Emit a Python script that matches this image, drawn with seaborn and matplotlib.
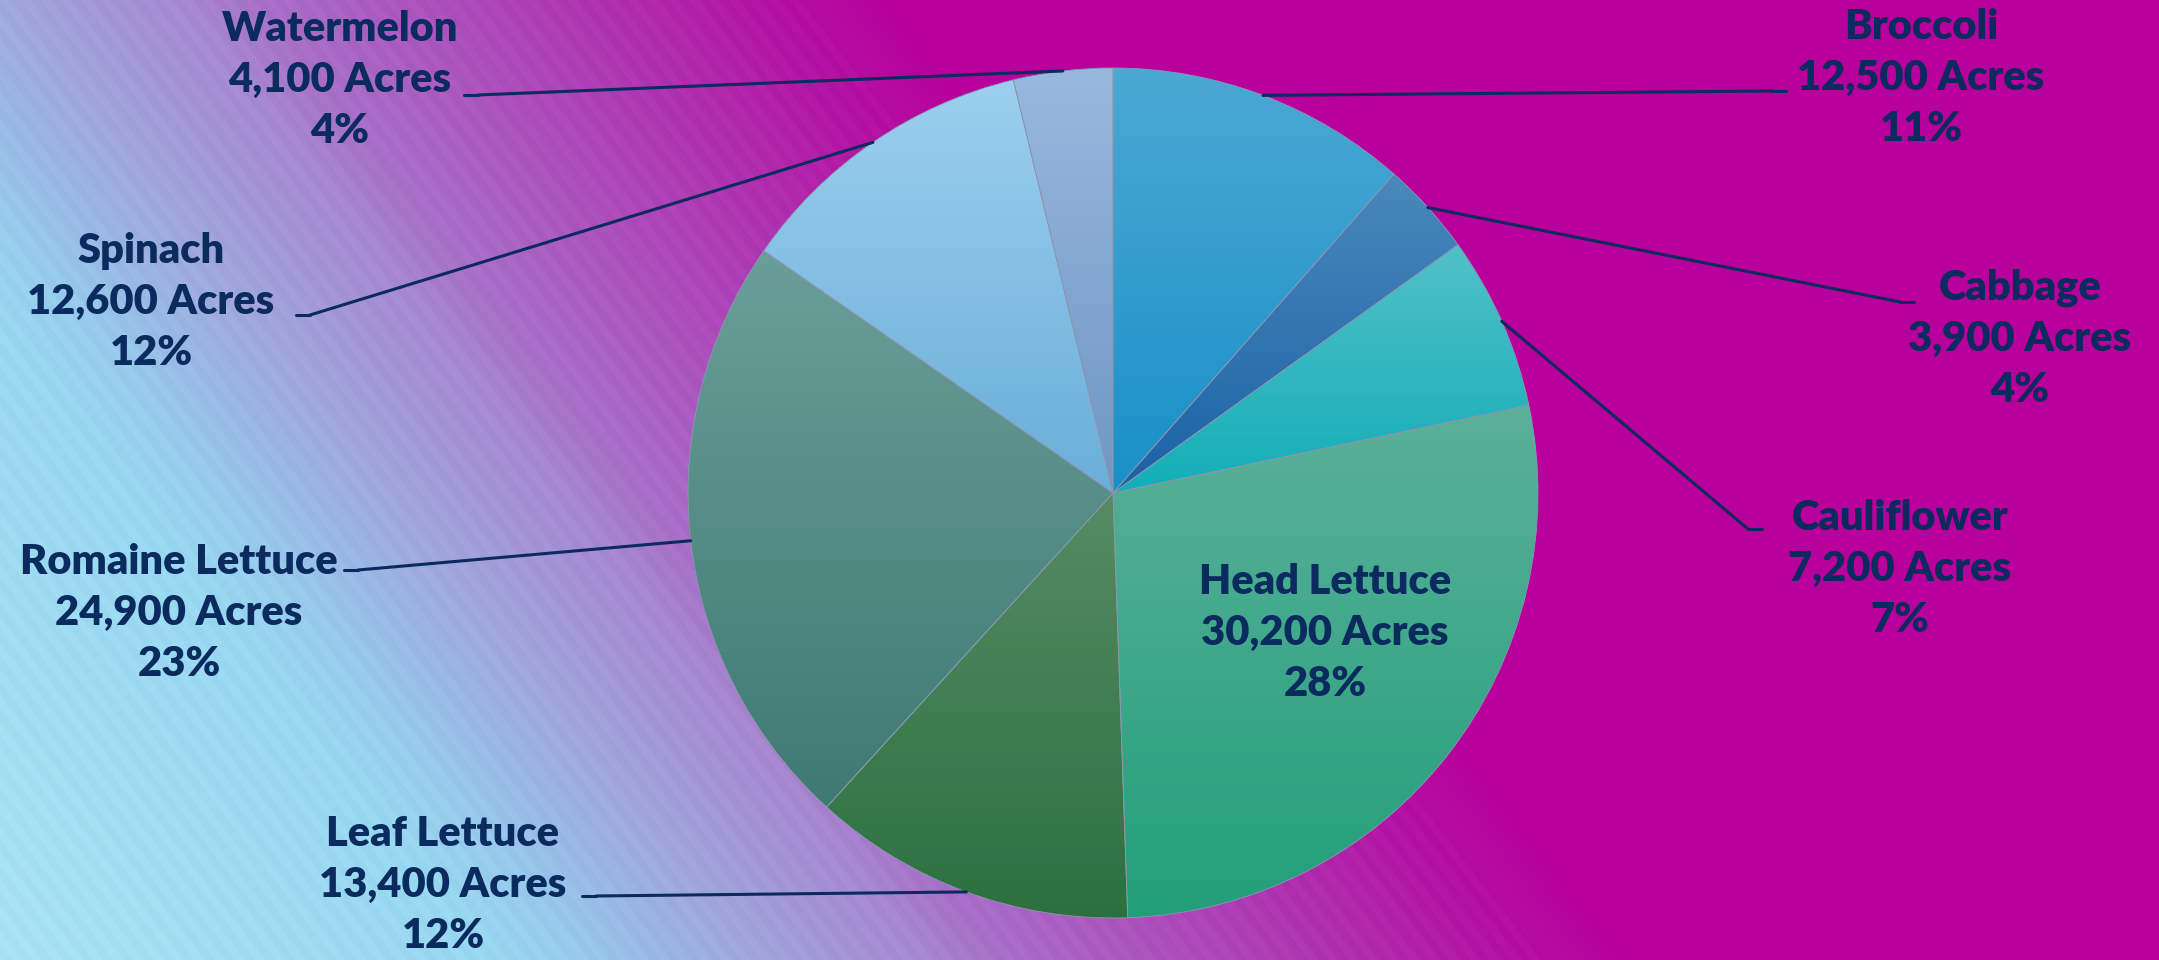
import numpy as np
import matplotlib
matplotlib.use('Agg')
import matplotlib.pyplot as plt
import seaborn as sns
from matplotlib.colors import LinearSegmentedColormap
from matplotlib.lines import Line2D

sns.set_theme(style='white')
plt.rcParams['font.family'] = ['Lato', 'DejaVu Sans']

# data, clockwise from 12 o'clock
crops = ['Broccoli', 'Cabbage', 'Cauliflower', 'Head Lettuce',
         'Leaf Lettuce', 'Romaine Lettuce', 'Spinach', 'Watermelon']
acres = [12500, 3900, 7200, 30200, 13400, 24900, 12600, 4100]

# wedge gradient colours (top -> bottom)
tops = ['#4ca8d4', '#4a88bc', '#52c0c8', '#5cb09a', '#568c62', '#6b9e98', '#9ccfef', '#98b8de']
bots = ['#1890c8', '#1a62a6', '#12aeb8', '#22a07a', '#2c7040', '#3f7a72', '#6aaed8', '#7096c4']

navy = '#0b2a5e'
W, H = 2159, 960
cx, cy, R = 1113, 493, 425

# label centres (middle line) and leader attach points, in pixels
label_pos = [(1921, 78), (2020, 339), (1900, 569), (1325, 633),
             (443, 885), (179, 613), (151, 302), (340, 80)]
attach = [(1786, 91), (1914, 302), (1762, 529), None,
          (582, 896), (344, 570), (296, 315), (464, 95)]
tick_dir = [-1, -1, -1, 0, 1, 1, 1, 1]

fig = plt.figure(figsize=(W / 100, H / 100), dpi=100)

# background gradient with faint diagonal banding
bg = fig.add_axes([0, 0, 1, 1])
bg.axis('off')
yy, xx = np.mgrid[0:H, 0:W]
u = 0.79 * xx - 0.61 * yy
t = np.clip((u + 600) / 1300, 0, 1)
cmap = LinearSegmentedColormap.from_list('bg', [
    (0.0, '#aae2f5'), (0.308, '#98d8f0'), (0.369, '#98c8ec'), (0.435, '#9cb0e0'),
    (0.462, '#a0a8dc'), (0.531, '#a494d6'), (0.573, '#a688d0'), (0.619, '#a870c8'),
    (0.708, '#ac55bf'), (0.831, '#b030b0'), (0.923, '#b414a4'), (1.0, '#b8009c')])
rgb = cmap(t)[..., :3]
band = np.where((u // 8) % 2 == 0, 0.008, -0.008) * (t < 0.95)
rgb = np.clip(rgb + band[..., None], 0, 1)
bg.imshow(rgb, extent=[0, 1, 0, 1], aspect='auto', interpolation='bilinear')
bg.set_xlim(0, 1)
bg.set_ylim(0, 1)

# pie
ax = fig.add_axes([(cx - R) / W, (H - cy - R) / H, 2 * R / W, 2 * R / H])
wedges, _ = ax.pie(acres, startangle=90, counterclock=False, radius=1,
                   wedgeprops=dict(linewidth=0.6, edgecolor='#8a98b0'))
for w, top, bot in zip(wedges, tops, bots):
    grad = np.array(sns.blend_palette([top, bot], 256))[:, None, :3]
    bb = w.get_path().get_extents()
    im = ax.imshow(grad, extent=[bb.x0, bb.x1, bb.y0, bb.y1], origin='upper',
                   aspect='auto', zorder=1, interpolation='bilinear')
    im.set_clip_path(w)
    w.set_facecolor('none')
    w.set_zorder(2)
ax.set_xlim(-1, 1)
ax.set_ylim(-1, 1)
ax.axis('off')

# labels and leader lines
total = sum(acres)
start = 90.0
for name, val, (lx, ly), at, d in zip(crops, acres, label_pos, attach, tick_dir):
    sweep = 360.0 * val / total
    mid = np.deg2rad(start - sweep / 2)
    start -= sweep
    pct = f"{round(100 * val / total)}%"
    fig.text(lx / W, 1 - ly / H, f"{name}\n{val:,} Acres\n{pct}",
             ha='center', va='center', ma='center', fontsize=30,
             fontweight='heavy', color=navy, linespacing=1.42)
    if at is None:
        continue
    ax_pt = (at[0] + d * 14, at[1])
    fig.add_artist(Line2D([at[0] / W, ax_pt[0] / W], [1 - at[1] / H, 1 - ax_pt[1] / H],
                          color=navy, lw=2.2, transform=fig.transFigure))
    ax.annotate('', xy=(np.cos(mid), np.sin(mid)), xycoords='data',
                xytext=(ax_pt[0] / W, 1 - ax_pt[1] / H), textcoords='figure fraction',
                arrowprops=dict(arrowstyle='-', color=navy, lw=2.2,
                                shrinkA=0, shrinkB=0), annotation_clip=False)

fig.savefig('out.png', dpi=100)
